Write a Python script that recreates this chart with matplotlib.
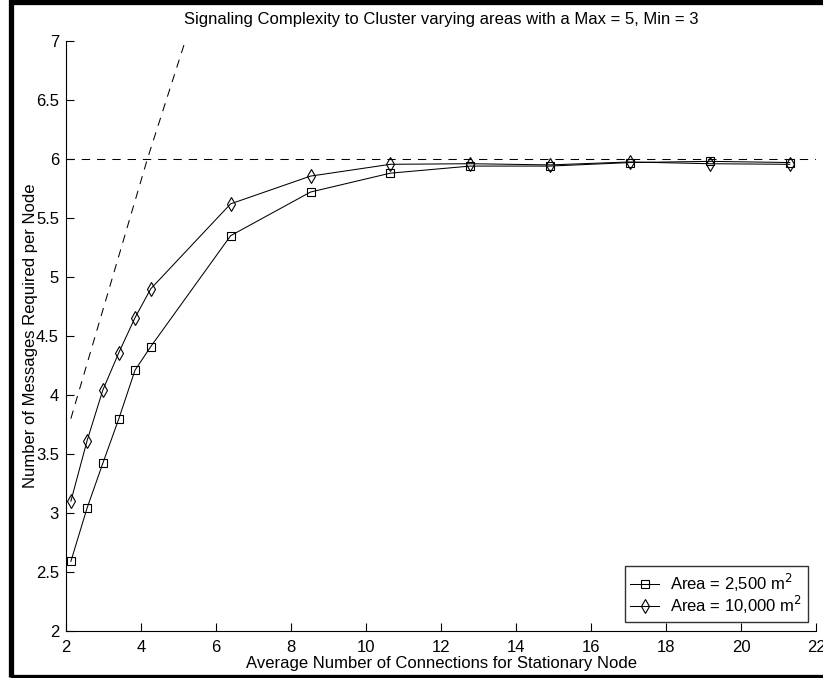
import matplotlib
matplotlib.use("Agg")
import matplotlib.pyplot as plt
from matplotlib.patches import Rectangle

plt.rcParams['font.family'] = ['Liberation Sans', 'DejaVu Sans']
plt.rcParams['lines.scale_dashes'] = False

# Data
connections = [2.13, 2.56, 2.98, 3.41, 3.84, 4.26, 6.39, 8.52, 10.65, 12.78, 14.91, 17.04, 19.17, 21.3]
area_2500 = [2.59, 3.04, 3.42, 3.80, 4.21, 4.41, 5.35, 5.72, 5.88, 5.94, 5.94, 5.97, 5.98, 5.97]
area_10000 = [3.10, 3.61, 4.04, 4.36, 4.655, 4.90, 5.62, 5.855, 5.955, 5.96, 5.95, 5.975, 5.96, 5.955]
bound_x = [2.13, 4.17, 5.18]
bound_y = [3.8, 6.0, 7.0]
max_level = 6.0
xticks = [2, 4, 6, 8, 10, 12, 14, 16, 18, 20, 22]
yticks = [2, 2.5, 3, 3.5, 4, 4.5, 5, 5.5, 6, 6.5, 7]
ytick_labels = ['2', '2.5', '3', '3.5', '4', '4.5', '5', '5.5', '6', '6.5', '7']

fig = plt.figure(figsize=(8.23, 6.78), dpi=100)
ax = fig.add_axes([66/823, 47/678, (816-66)/823, (631-41)/678])

ax.plot(connections, area_2500, color='black', lw=0.75, marker='s', markersize=5.5,
        markerfacecolor='none', markeredgecolor='black', markeredgewidth=0.8,
        label='Area = 2,500 m$^2$')
ax.plot(connections, area_10000, color='black', lw=0.75, marker='d', markersize=7,
        markerfacecolor='none', markeredgecolor='black', markeredgewidth=0.8,
        label='Area = 10,000 m$^2$')
ax.plot([2, 22], [max_level, max_level], color='black', lw=0.75, dashes=(6, 5))
ax.plot(bound_x, bound_y, color='black', lw=0.75, dashes=(6, 5))

ax.set_xlim(2, 22)
ax.set_ylim(2, 7)
ax.set_xticks(xticks)
ax.set_xticklabels([str(t) for t in xticks])
ax.set_yticks(yticks)
ax.set_yticklabels(ytick_labels)
ax.spines['top'].set_visible(False)
ax.spines['right'].set_visible(False)
for s in ['left', 'bottom']:
    ax.spines[s].set_linewidth(0.8)
ax.tick_params(direction='in', length=5.5, width=0.8, labelsize=12)
ax.tick_params(axis='x', pad=6.5)
ax.tick_params(axis='y', pad=5)

ax.set_title('Signaling Complexity to Cluster varying areas with a Max = 5, Min = 3',
             fontsize=12, pad=12)
ax.set_xlabel('Average Number of Connections for Stationary Node', fontsize=12, labelpad=1)
ax.set_ylabel('Number of Messages Required per Node', fontsize=12, labelpad=-1.5)

leg = ax.legend(loc='lower right', fontsize=12, frameon=True, fancybox=False,
                handlelength=1.7, handletextpad=0.7, borderpad=0.35, labelspacing=0.0,
                borderaxespad=0.0, bbox_to_anchor=(0.9893, 0.015))
leg.get_frame().set_edgecolor('black')
leg.get_frame().set_linewidth(1.0)

fig.patches.append(Rectangle((10.8/823, 1.5/678), 1.0, 675/678, transform=fig.transFigure,
                             fill=False, edgecolor='black', lw=3.8))

fig.savefig('out.png', dpi=100)
